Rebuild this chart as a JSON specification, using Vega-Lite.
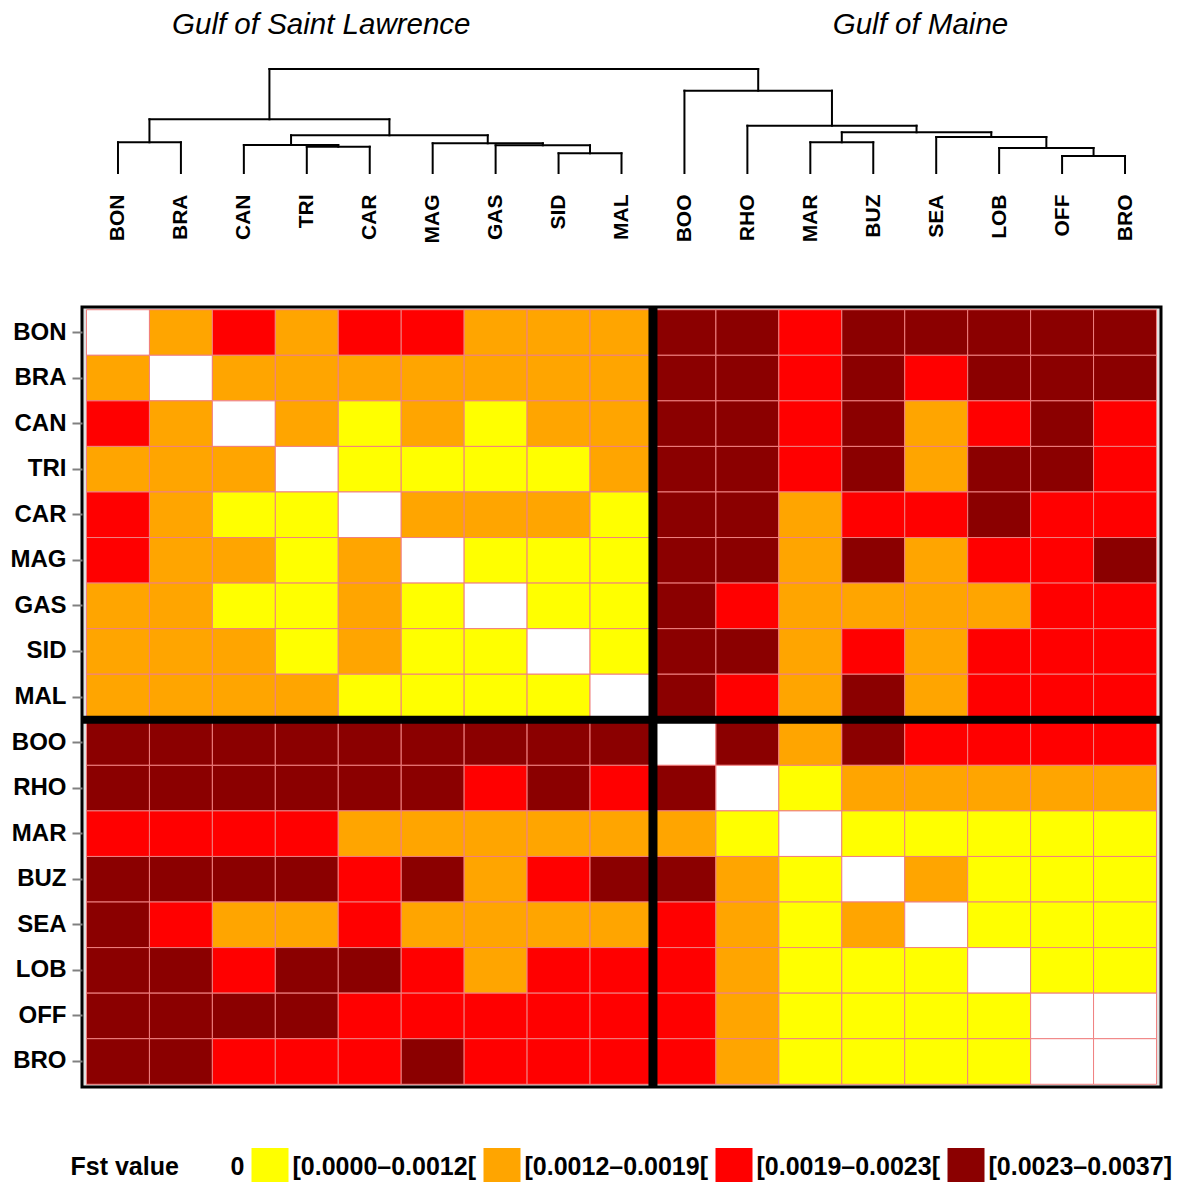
{
  "$schema": "https://vega.github.io/schema/vega-lite/v6.json",
  "background": "white",
  "padding": {"left": 8, "top": 5, "right": 5, "bottom": 0},
  "config": {"font": "Liberation Sans", "concat": {"spacing": 58}},
  "datasets": {
    "branches": [
      {"node": "A", "x": 0, "x2": 1, "h": 30.7, "h2": 30.7},
      {"node": "A", "x": 0, "x2": 0, "h": 0, "h2": 30.7},
      {"node": "A", "x": 1, "x2": 1, "h": 0, "h2": 30.7},
      {"node": "B", "x": 3, "x2": 4, "h": 26.3, "h2": 26.3},
      {"node": "B", "x": 3, "x2": 3, "h": 0, "h2": 26.3},
      {"node": "B", "x": 4, "x2": 4, "h": 0, "h2": 26.3},
      {"node": "C", "x": 2, "x2": 3.5, "h": 28, "h2": 28},
      {"node": "C", "x": 2, "x2": 2, "h": 0, "h2": 28},
      {"node": "C", "x": 3.5, "x2": 3.5, "h": 26.3, "h2": 28},
      {"node": "D", "x": 7, "x2": 8, "h": 19.7, "h2": 19.7},
      {"node": "D", "x": 7, "x2": 7, "h": 0, "h2": 19.7},
      {"node": "D", "x": 8, "x2": 8, "h": 0, "h2": 19.7},
      {"node": "E", "x": 6, "x2": 7.5, "h": 27.7, "h2": 27.7},
      {"node": "E", "x": 6, "x2": 6, "h": 0, "h2": 27.7},
      {"node": "E", "x": 7.5, "x2": 7.5, "h": 19.7, "h2": 27.7},
      {"node": "F", "x": 5, "x2": 6.75, "h": 29.7, "h2": 29.7},
      {"node": "F", "x": 5, "x2": 5, "h": 0, "h2": 29.7},
      {"node": "F", "x": 6.75, "x2": 6.75, "h": 27.7, "h2": 29.7},
      {"node": "G", "x": 2.75, "x2": 5.875, "h": 37.7, "h2": 37.7},
      {"node": "G", "x": 2.75, "x2": 2.75, "h": 28, "h2": 37.7},
      {"node": "G", "x": 5.875, "x2": 5.875, "h": 29.7, "h2": 37.7},
      {"node": "H", "x": 0.5, "x2": 4.3125, "h": 53.7, "h2": 53.7},
      {"node": "H", "x": 0.5, "x2": 0.5, "h": 30.7, "h2": 53.7},
      {"node": "H", "x": 4.3125, "x2": 4.3125, "h": 37.7, "h2": 53.7},
      {"node": "I", "x": 15, "x2": 16, "h": 17, "h2": 17},
      {"node": "I", "x": 15, "x2": 15, "h": 0, "h2": 17},
      {"node": "I", "x": 16, "x2": 16, "h": 0, "h2": 17},
      {"node": "J", "x": 14, "x2": 15.5, "h": 25, "h2": 25},
      {"node": "J", "x": 14, "x2": 14, "h": 0, "h2": 25},
      {"node": "J", "x": 15.5, "x2": 15.5, "h": 17, "h2": 25},
      {"node": "K", "x": 13, "x2": 14.75, "h": 36, "h2": 36},
      {"node": "K", "x": 13, "x2": 13, "h": 0, "h2": 36},
      {"node": "K", "x": 14.75, "x2": 14.75, "h": 25, "h2": 36},
      {"node": "L", "x": 11, "x2": 12, "h": 30.7, "h2": 30.7},
      {"node": "L", "x": 11, "x2": 11, "h": 0, "h2": 30.7},
      {"node": "L", "x": 12, "x2": 12, "h": 0, "h2": 30.7},
      {"node": "M", "x": 11.5, "x2": 13.875, "h": 40.7, "h2": 40.7},
      {"node": "M", "x": 11.5, "x2": 11.5, "h": 30.7, "h2": 40.7},
      {"node": "M", "x": 13.875, "x2": 13.875, "h": 36, "h2": 40.7},
      {"node": "N", "x": 10, "x2": 12.6875, "h": 47.3, "h2": 47.3},
      {"node": "N", "x": 10, "x2": 10, "h": 0, "h2": 47.3},
      {"node": "N", "x": 12.6875, "x2": 12.6875, "h": 40.7, "h2": 47.3},
      {"node": "O", "x": 9, "x2": 11.34375, "h": 82.3, "h2": 82.3},
      {"node": "O", "x": 9, "x2": 9, "h": 0, "h2": 82.3},
      {"node": "O", "x": 11.34375, "x2": 11.34375, "h": 47.3, "h2": 82.3},
      {"node": "R", "x": 2.40625, "x2": 10.171875, "h": 104, "h2": 104},
      {"node": "R", "x": 2.40625, "x2": 2.40625, "h": 53.7, "h2": 104},
      {"node": "R", "x": 10.171875, "x2": 10.171875, "h": 82.3, "h2": 104}
    ],
    "regions": [
      {"region": "Gulf of Saint Lawrence", "pos": 3.23, "h": 148},
      {"region": "Gulf of Maine", "pos": 12.75, "h": 148}
    ],
    "split": [{"first": "BOO"}],
    "fst": [
      {"r":"BON","c":"BON","k":0},{"r":"BON","c":"BRA","k":2},{"r":"BON","c":"CAN","k":3},{"r":"BON","c":"TRI","k":2},{"r":"BON","c":"CAR","k":3},{"r":"BON","c":"MAG","k":3},{"r":"BON","c":"GAS","k":2},{"r":"BON","c":"SID","k":2},{"r":"BON","c":"MAL","k":2},{"r":"BON","c":"BOO","k":4},{"r":"BON","c":"RHO","k":4},{"r":"BON","c":"MAR","k":3},{"r":"BON","c":"BUZ","k":4},{"r":"BON","c":"SEA","k":4},{"r":"BON","c":"LOB","k":4},{"r":"BON","c":"OFF","k":4},{"r":"BON","c":"BRO","k":4},
      {"r":"BRA","c":"BON","k":2},{"r":"BRA","c":"BRA","k":0},{"r":"BRA","c":"CAN","k":2},{"r":"BRA","c":"TRI","k":2},{"r":"BRA","c":"CAR","k":2},{"r":"BRA","c":"MAG","k":2},{"r":"BRA","c":"GAS","k":2},{"r":"BRA","c":"SID","k":2},{"r":"BRA","c":"MAL","k":2},{"r":"BRA","c":"BOO","k":4},{"r":"BRA","c":"RHO","k":4},{"r":"BRA","c":"MAR","k":3},{"r":"BRA","c":"BUZ","k":4},{"r":"BRA","c":"SEA","k":3},{"r":"BRA","c":"LOB","k":4},{"r":"BRA","c":"OFF","k":4},{"r":"BRA","c":"BRO","k":4},
      {"r":"CAN","c":"BON","k":3},{"r":"CAN","c":"BRA","k":2},{"r":"CAN","c":"CAN","k":0},{"r":"CAN","c":"TRI","k":2},{"r":"CAN","c":"CAR","k":1},{"r":"CAN","c":"MAG","k":2},{"r":"CAN","c":"GAS","k":1},{"r":"CAN","c":"SID","k":2},{"r":"CAN","c":"MAL","k":2},{"r":"CAN","c":"BOO","k":4},{"r":"CAN","c":"RHO","k":4},{"r":"CAN","c":"MAR","k":3},{"r":"CAN","c":"BUZ","k":4},{"r":"CAN","c":"SEA","k":2},{"r":"CAN","c":"LOB","k":3},{"r":"CAN","c":"OFF","k":4},{"r":"CAN","c":"BRO","k":3},
      {"r":"TRI","c":"BON","k":2},{"r":"TRI","c":"BRA","k":2},{"r":"TRI","c":"CAN","k":2},{"r":"TRI","c":"TRI","k":0},{"r":"TRI","c":"CAR","k":1},{"r":"TRI","c":"MAG","k":1},{"r":"TRI","c":"GAS","k":1},{"r":"TRI","c":"SID","k":1},{"r":"TRI","c":"MAL","k":2},{"r":"TRI","c":"BOO","k":4},{"r":"TRI","c":"RHO","k":4},{"r":"TRI","c":"MAR","k":3},{"r":"TRI","c":"BUZ","k":4},{"r":"TRI","c":"SEA","k":2},{"r":"TRI","c":"LOB","k":4},{"r":"TRI","c":"OFF","k":4},{"r":"TRI","c":"BRO","k":3},
      {"r":"CAR","c":"BON","k":3},{"r":"CAR","c":"BRA","k":2},{"r":"CAR","c":"CAN","k":1},{"r":"CAR","c":"TRI","k":1},{"r":"CAR","c":"CAR","k":0},{"r":"CAR","c":"MAG","k":2},{"r":"CAR","c":"GAS","k":2},{"r":"CAR","c":"SID","k":2},{"r":"CAR","c":"MAL","k":1},{"r":"CAR","c":"BOO","k":4},{"r":"CAR","c":"RHO","k":4},{"r":"CAR","c":"MAR","k":2},{"r":"CAR","c":"BUZ","k":3},{"r":"CAR","c":"SEA","k":3},{"r":"CAR","c":"LOB","k":4},{"r":"CAR","c":"OFF","k":3},{"r":"CAR","c":"BRO","k":3},
      {"r":"MAG","c":"BON","k":3},{"r":"MAG","c":"BRA","k":2},{"r":"MAG","c":"CAN","k":2},{"r":"MAG","c":"TRI","k":1},{"r":"MAG","c":"CAR","k":2},{"r":"MAG","c":"MAG","k":0},{"r":"MAG","c":"GAS","k":1},{"r":"MAG","c":"SID","k":1},{"r":"MAG","c":"MAL","k":1},{"r":"MAG","c":"BOO","k":4},{"r":"MAG","c":"RHO","k":4},{"r":"MAG","c":"MAR","k":2},{"r":"MAG","c":"BUZ","k":4},{"r":"MAG","c":"SEA","k":2},{"r":"MAG","c":"LOB","k":3},{"r":"MAG","c":"OFF","k":3},{"r":"MAG","c":"BRO","k":4},
      {"r":"GAS","c":"BON","k":2},{"r":"GAS","c":"BRA","k":2},{"r":"GAS","c":"CAN","k":1},{"r":"GAS","c":"TRI","k":1},{"r":"GAS","c":"CAR","k":2},{"r":"GAS","c":"MAG","k":1},{"r":"GAS","c":"GAS","k":0},{"r":"GAS","c":"SID","k":1},{"r":"GAS","c":"MAL","k":1},{"r":"GAS","c":"BOO","k":4},{"r":"GAS","c":"RHO","k":3},{"r":"GAS","c":"MAR","k":2},{"r":"GAS","c":"BUZ","k":2},{"r":"GAS","c":"SEA","k":2},{"r":"GAS","c":"LOB","k":2},{"r":"GAS","c":"OFF","k":3},{"r":"GAS","c":"BRO","k":3},
      {"r":"SID","c":"BON","k":2},{"r":"SID","c":"BRA","k":2},{"r":"SID","c":"CAN","k":2},{"r":"SID","c":"TRI","k":1},{"r":"SID","c":"CAR","k":2},{"r":"SID","c":"MAG","k":1},{"r":"SID","c":"GAS","k":1},{"r":"SID","c":"SID","k":0},{"r":"SID","c":"MAL","k":1},{"r":"SID","c":"BOO","k":4},{"r":"SID","c":"RHO","k":4},{"r":"SID","c":"MAR","k":2},{"r":"SID","c":"BUZ","k":3},{"r":"SID","c":"SEA","k":2},{"r":"SID","c":"LOB","k":3},{"r":"SID","c":"OFF","k":3},{"r":"SID","c":"BRO","k":3},
      {"r":"MAL","c":"BON","k":2},{"r":"MAL","c":"BRA","k":2},{"r":"MAL","c":"CAN","k":2},{"r":"MAL","c":"TRI","k":2},{"r":"MAL","c":"CAR","k":1},{"r":"MAL","c":"MAG","k":1},{"r":"MAL","c":"GAS","k":1},{"r":"MAL","c":"SID","k":1},{"r":"MAL","c":"MAL","k":0},{"r":"MAL","c":"BOO","k":4},{"r":"MAL","c":"RHO","k":3},{"r":"MAL","c":"MAR","k":2},{"r":"MAL","c":"BUZ","k":4},{"r":"MAL","c":"SEA","k":2},{"r":"MAL","c":"LOB","k":3},{"r":"MAL","c":"OFF","k":3},{"r":"MAL","c":"BRO","k":3},
      {"r":"BOO","c":"BON","k":4},{"r":"BOO","c":"BRA","k":4},{"r":"BOO","c":"CAN","k":4},{"r":"BOO","c":"TRI","k":4},{"r":"BOO","c":"CAR","k":4},{"r":"BOO","c":"MAG","k":4},{"r":"BOO","c":"GAS","k":4},{"r":"BOO","c":"SID","k":4},{"r":"BOO","c":"MAL","k":4},{"r":"BOO","c":"BOO","k":0},{"r":"BOO","c":"RHO","k":4},{"r":"BOO","c":"MAR","k":2},{"r":"BOO","c":"BUZ","k":4},{"r":"BOO","c":"SEA","k":3},{"r":"BOO","c":"LOB","k":3},{"r":"BOO","c":"OFF","k":3},{"r":"BOO","c":"BRO","k":3},
      {"r":"RHO","c":"BON","k":4},{"r":"RHO","c":"BRA","k":4},{"r":"RHO","c":"CAN","k":4},{"r":"RHO","c":"TRI","k":4},{"r":"RHO","c":"CAR","k":4},{"r":"RHO","c":"MAG","k":4},{"r":"RHO","c":"GAS","k":3},{"r":"RHO","c":"SID","k":4},{"r":"RHO","c":"MAL","k":3},{"r":"RHO","c":"BOO","k":4},{"r":"RHO","c":"RHO","k":0},{"r":"RHO","c":"MAR","k":1},{"r":"RHO","c":"BUZ","k":2},{"r":"RHO","c":"SEA","k":2},{"r":"RHO","c":"LOB","k":2},{"r":"RHO","c":"OFF","k":2},{"r":"RHO","c":"BRO","k":2},
      {"r":"MAR","c":"BON","k":3},{"r":"MAR","c":"BRA","k":3},{"r":"MAR","c":"CAN","k":3},{"r":"MAR","c":"TRI","k":3},{"r":"MAR","c":"CAR","k":2},{"r":"MAR","c":"MAG","k":2},{"r":"MAR","c":"GAS","k":2},{"r":"MAR","c":"SID","k":2},{"r":"MAR","c":"MAL","k":2},{"r":"MAR","c":"BOO","k":2},{"r":"MAR","c":"RHO","k":1},{"r":"MAR","c":"MAR","k":0},{"r":"MAR","c":"BUZ","k":1},{"r":"MAR","c":"SEA","k":1},{"r":"MAR","c":"LOB","k":1},{"r":"MAR","c":"OFF","k":1},{"r":"MAR","c":"BRO","k":1},
      {"r":"BUZ","c":"BON","k":4},{"r":"BUZ","c":"BRA","k":4},{"r":"BUZ","c":"CAN","k":4},{"r":"BUZ","c":"TRI","k":4},{"r":"BUZ","c":"CAR","k":3},{"r":"BUZ","c":"MAG","k":4},{"r":"BUZ","c":"GAS","k":2},{"r":"BUZ","c":"SID","k":3},{"r":"BUZ","c":"MAL","k":4},{"r":"BUZ","c":"BOO","k":4},{"r":"BUZ","c":"RHO","k":2},{"r":"BUZ","c":"MAR","k":1},{"r":"BUZ","c":"BUZ","k":0},{"r":"BUZ","c":"SEA","k":2},{"r":"BUZ","c":"LOB","k":1},{"r":"BUZ","c":"OFF","k":1},{"r":"BUZ","c":"BRO","k":1},
      {"r":"SEA","c":"BON","k":4},{"r":"SEA","c":"BRA","k":3},{"r":"SEA","c":"CAN","k":2},{"r":"SEA","c":"TRI","k":2},{"r":"SEA","c":"CAR","k":3},{"r":"SEA","c":"MAG","k":2},{"r":"SEA","c":"GAS","k":2},{"r":"SEA","c":"SID","k":2},{"r":"SEA","c":"MAL","k":2},{"r":"SEA","c":"BOO","k":3},{"r":"SEA","c":"RHO","k":2},{"r":"SEA","c":"MAR","k":1},{"r":"SEA","c":"BUZ","k":2},{"r":"SEA","c":"SEA","k":0},{"r":"SEA","c":"LOB","k":1},{"r":"SEA","c":"OFF","k":1},{"r":"SEA","c":"BRO","k":1},
      {"r":"LOB","c":"BON","k":4},{"r":"LOB","c":"BRA","k":4},{"r":"LOB","c":"CAN","k":3},{"r":"LOB","c":"TRI","k":4},{"r":"LOB","c":"CAR","k":4},{"r":"LOB","c":"MAG","k":3},{"r":"LOB","c":"GAS","k":2},{"r":"LOB","c":"SID","k":3},{"r":"LOB","c":"MAL","k":3},{"r":"LOB","c":"BOO","k":3},{"r":"LOB","c":"RHO","k":2},{"r":"LOB","c":"MAR","k":1},{"r":"LOB","c":"BUZ","k":1},{"r":"LOB","c":"SEA","k":1},{"r":"LOB","c":"LOB","k":0},{"r":"LOB","c":"OFF","k":1},{"r":"LOB","c":"BRO","k":1},
      {"r":"OFF","c":"BON","k":4},{"r":"OFF","c":"BRA","k":4},{"r":"OFF","c":"CAN","k":4},{"r":"OFF","c":"TRI","k":4},{"r":"OFF","c":"CAR","k":3},{"r":"OFF","c":"MAG","k":3},{"r":"OFF","c":"GAS","k":3},{"r":"OFF","c":"SID","k":3},{"r":"OFF","c":"MAL","k":3},{"r":"OFF","c":"BOO","k":3},{"r":"OFF","c":"RHO","k":2},{"r":"OFF","c":"MAR","k":1},{"r":"OFF","c":"BUZ","k":1},{"r":"OFF","c":"SEA","k":1},{"r":"OFF","c":"LOB","k":1},{"r":"OFF","c":"OFF","k":0},{"r":"OFF","c":"BRO","k":0},
      {"r":"BRO","c":"BON","k":4},{"r":"BRO","c":"BRA","k":4},{"r":"BRO","c":"CAN","k":3},{"r":"BRO","c":"TRI","k":3},{"r":"BRO","c":"CAR","k":3},{"r":"BRO","c":"MAG","k":4},{"r":"BRO","c":"GAS","k":3},{"r":"BRO","c":"SID","k":3},{"r":"BRO","c":"MAL","k":3},{"r":"BRO","c":"BOO","k":3},{"r":"BRO","c":"RHO","k":2},{"r":"BRO","c":"MAR","k":1},{"r":"BRO","c":"BUZ","k":1},{"r":"BRO","c":"SEA","k":1},{"r":"BRO","c":"LOB","k":1},{"r":"BRO","c":"OFF","k":0},{"r":"BRO","c":"BRO","k":0}
    ]
  },
  "vconcat": [
    {
      "width": 1079,
      "height": 168,
      "view": {"stroke": null},
      "layer": [
        {
          "data": {"name": "branches"},
          "mark": {"type": "rule", "color": "black", "strokeWidth": 2, "strokeCap": "square"},
          "encoding": {
            "x": {
              "field": "x", "type": "quantitative",
              "scale": {"domain": [-0.5715, 16.5715], "nice": false, "zero": false},
              "axis": {
                "values": [0, 1, 2, 3, 4, 5, 6, 7, 8, 9, 10, 11, 12, 13, 14, 15, 16],
                "labelExpr": "['BON','BRA','CAN','TRI','CAR','MAG','GAS','SID','MAL','BOO','RHO','MAR','BUZ','SEA','LOB','OFF','BRO'][datum.value]",
                "labelAngle": -90, "labelAlign": "right", "labelBaseline": "middle",
                "labelFontSize": 21, "labelFontWeight": "bold", "labelColor": "black",
                "labelPadding": 21, "labelOverlap": false, "labelFlush": false, "labelBound": false,
                "ticks": false, "domain": false, "grid": false, "title": null
              }
            },
            "x2": {"field": "x2"},
            "y": {"field": "h", "type": "quantitative", "scale": {"domain": [0, 168], "nice": false, "zero": false}, "axis": null},
            "y2": {"field": "h2"}
          }
        },
        {
          "data": {"name": "regions"},
          "mark": {"type": "text", "fontSize": 29.5, "fontStyle": "italic", "color": "black", "baseline": "middle"},
          "encoding": {
            "x": {"field": "pos", "type": "quantitative"},
            "y": {"field": "h", "type": "quantitative"},
            "text": {"field": "region"}
          }
        }
      ]
    },
    {
      "width": 1079,
      "height": 780,
      "view": {"stroke": "black", "strokeWidth": 3, "fill": "#e0e0e0"},
      "layer": [
        {
          "data": {"name": "fst"},
          "mark": {"type": "rect", "stroke": "#f08080", "strokeWidth": 1},
          "encoding": {
            "x": {
              "field": "c", "type": "nominal",
              "scale": {"domain": ["BON","BRA","CAN","TRI","CAR","MAG","GAS","SID","MAL","BOO","RHO","MAR","BUZ","SEA","LOB","OFF","BRO"], "paddingInner": 0, "paddingOuter": 0.0715},
              "axis": null
            },
            "y": {
              "field": "r", "type": "nominal",
              "scale": {"domain": ["BON","BRA","CAN","TRI","CAR","MAG","GAS","SID","MAL","BOO","RHO","MAR","BUZ","SEA","LOB","OFF","BRO"], "paddingInner": 0, "paddingOuter": 0.06},
              "axis": {
                "title": null, "domain": false, "grid": false,
                "ticks": true, "tickColor": "#808080", "tickWidth": 2, "tickSize": 10,
                "labelFontSize": 24, "labelFontWeight": "bold", "labelColor": "black", "labelPadding": 6
              }
            },
            "color": {
              "field": "k", "type": "ordinal",
              "scale": {"domain": [0, 1, 2, 3, 4], "range": ["#ffffff", "#ffff00", "#ffa500", "#ff0000", "#8b0000"]},
              "legend": {
                "orient": "none", "legendX": -11.5, "legendY": 1143, "direction": "horizontal", "padding": 0,
                "title": "Fst value", "titleOrient": "left", "titleFontSize": 25, "titleFontWeight": "bold", "titleColor": "black", "titlePadding": 10,
                "symbolType": "square", "symbolSize": 1369, "symbolStrokeWidth": 0, "symbolOpacity": 1,
                "labelExpr": "['0','[0.0000–0.0012[','[0.0012–0.0019[','[0.0019–0.0023[','[0.0023–0.0037]'][datum.value]",
                "labelFontSize": 25, "labelFontWeight": "bold", "labelColor": "black", "labelOffset": 4, "labelLimit": 400,
                "columnPadding": 7
              }
            }
          }
        },
        {
          "data": {"name": "split"},
          "mark": {"type": "rule", "color": "black", "strokeWidth": 9},
          "encoding": {"x": {"field": "first", "type": "nominal", "bandPosition": 0}}
        },
        {
          "data": {"name": "split"},
          "mark": {"type": "rule", "color": "black", "strokeWidth": 8},
          "encoding": {"y": {"field": "first", "type": "nominal", "bandPosition": 0}}
        }
      ]
    }
  ]
}
